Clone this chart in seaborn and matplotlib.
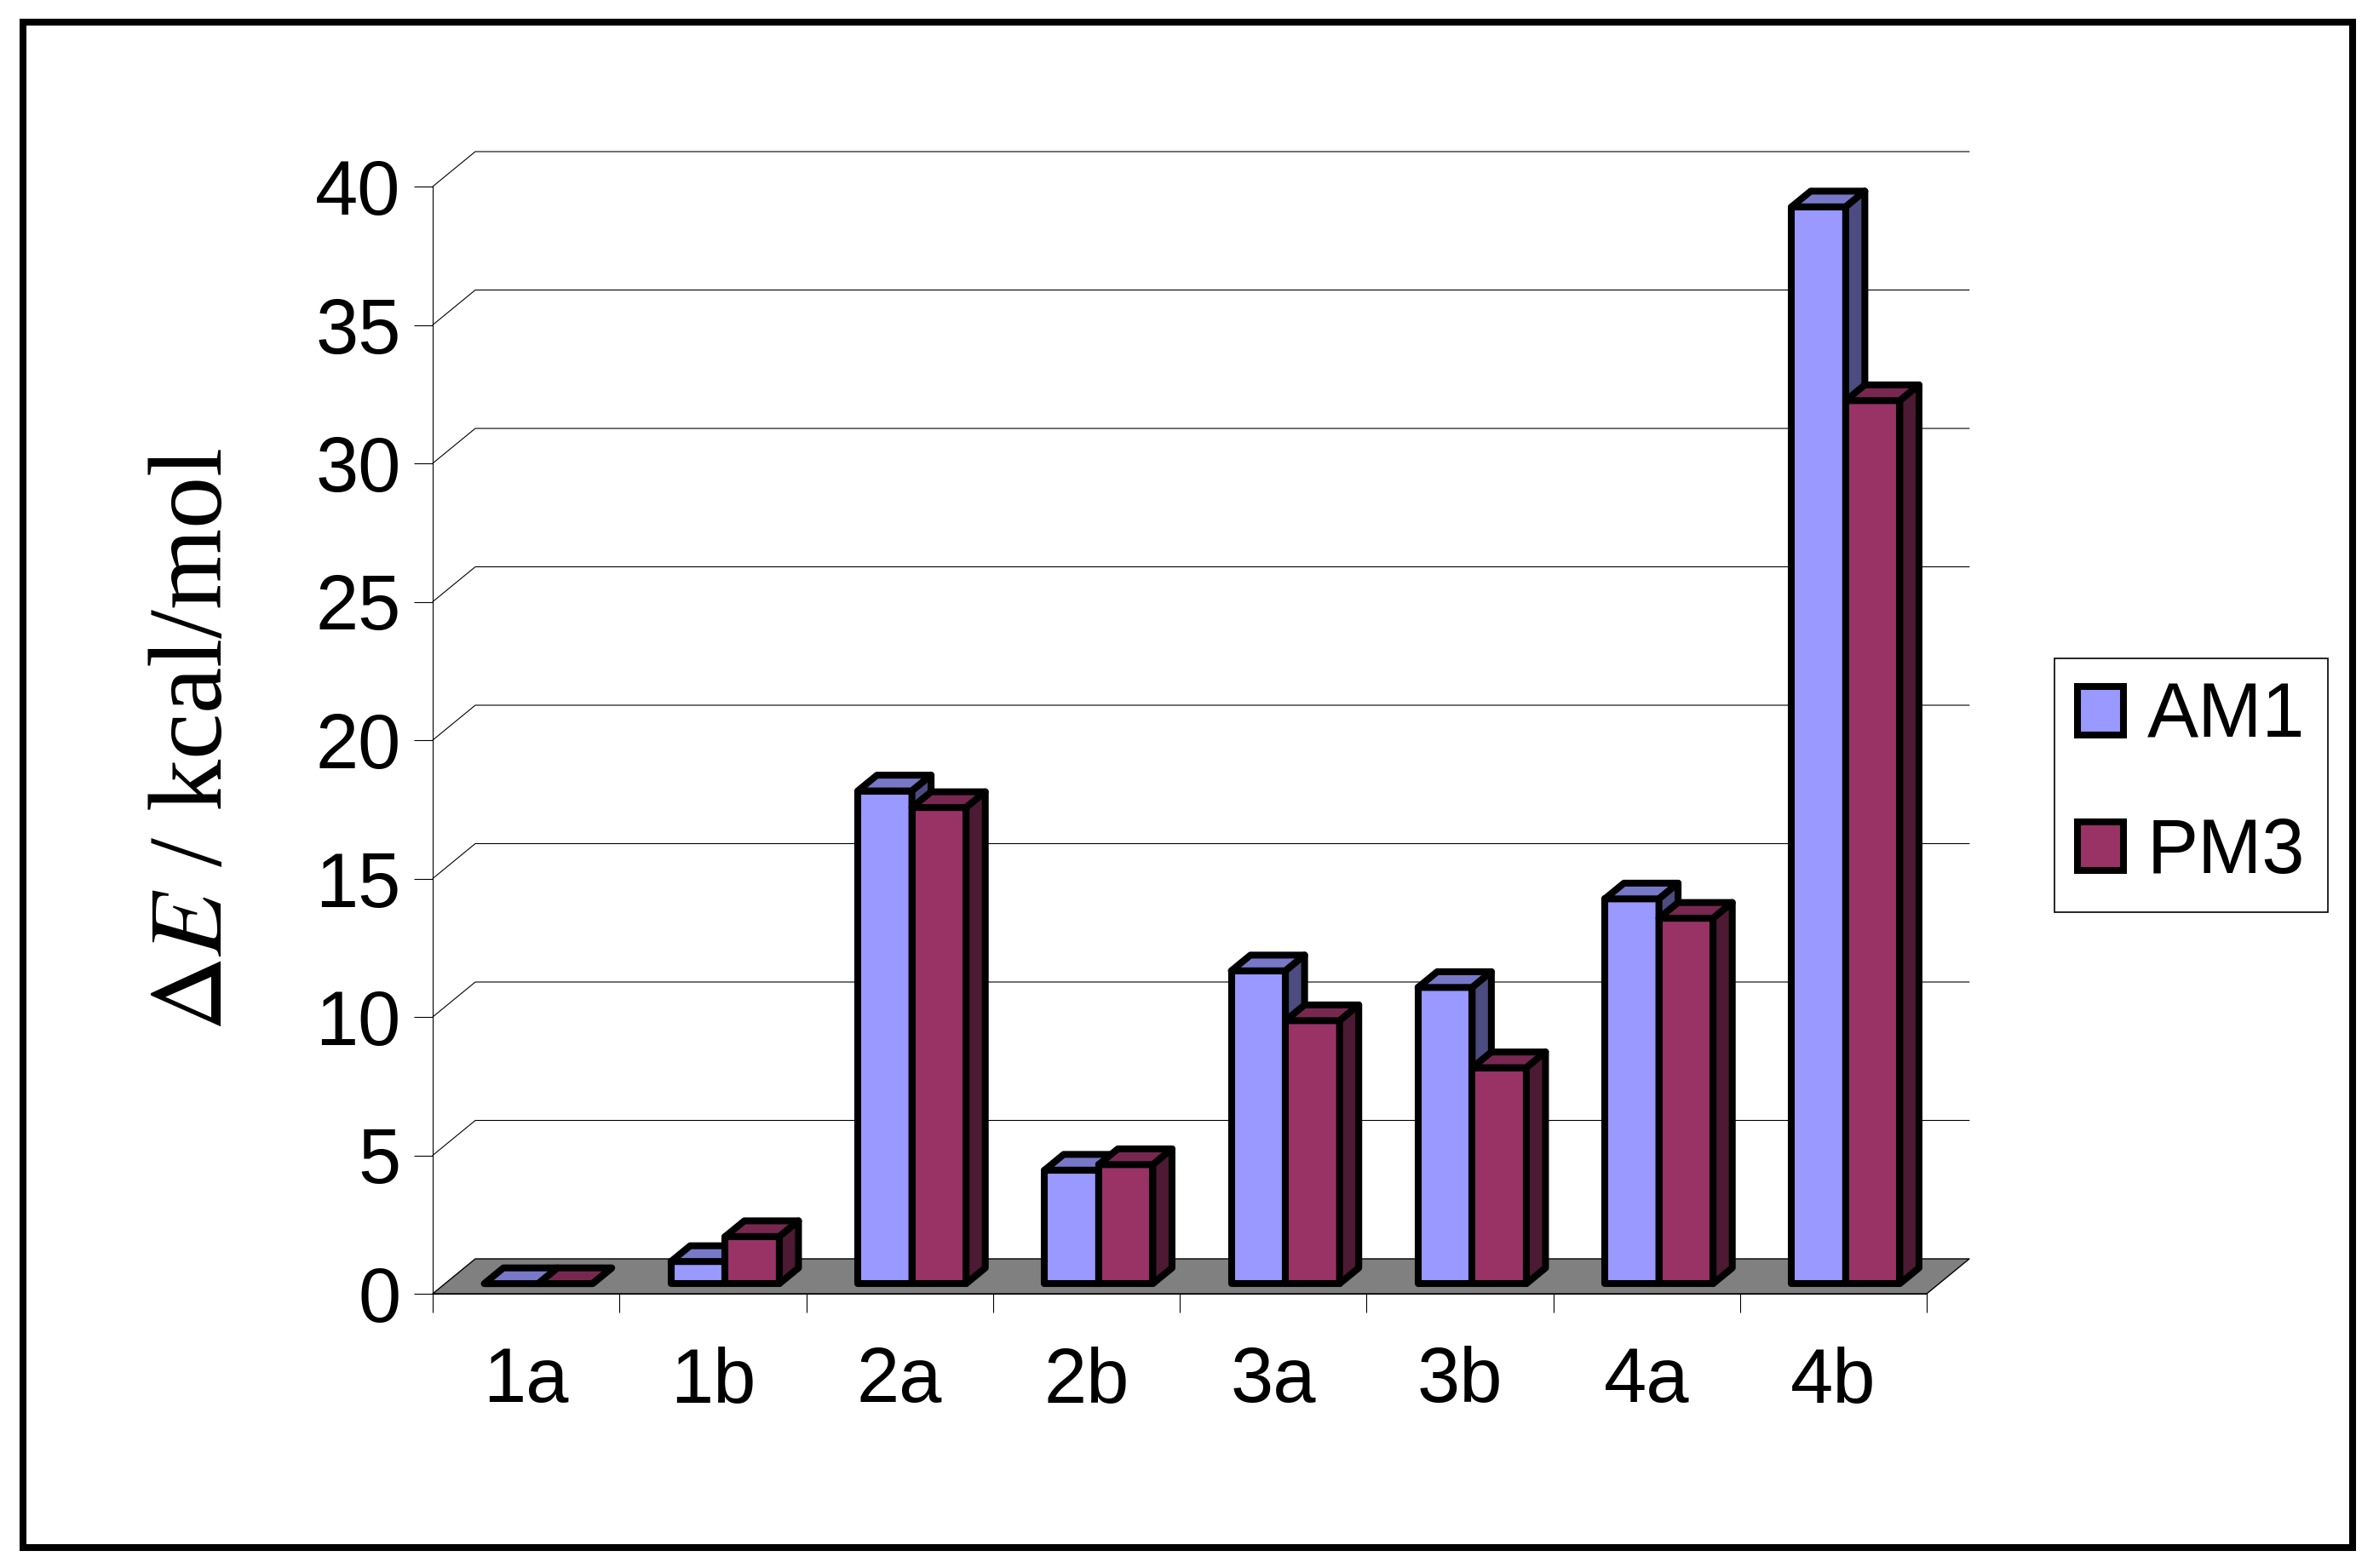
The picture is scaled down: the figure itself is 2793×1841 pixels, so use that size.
import numpy as np
import pandas as pd
import matplotlib
matplotlib.use("Agg")
import matplotlib.pyplot as plt
import seaborn as sns
from matplotlib.patches import Polygon, Patch, Rectangle
from matplotlib.lines import Line2D
from matplotlib.transforms import Affine2D, IdentityTransform

# ---------------- data ----------------
categories = ["1a", "1b", "2a", "2b", "3a", "3b", "4a", "4b"]
am1_values = [0.0, 0.8, 17.8, 4.1, 11.3, 10.7, 13.9, 38.9]
pm3_values = [0.0, 1.7, 17.2, 4.3, 9.5, 7.8, 13.2, 31.9]
series_names = ["AM1", "PM3"]
y_ticks = [0, 5, 10, 15, 20, 25, 30, 35, 40]

front_colors = {"AM1": "#9999FF", "PM3": "#993366"}
top_colors = {"AM1": "#7878C8", "PM3": "#782850"}
side_colors = {"AM1": "#4C4C80", "PM3": "#4C1A33"}

df = pd.DataFrame({
    "cat": categories * 2,
    "method": ["AM1"] * len(categories) + ["PM3"] * len(categories),
    "value": am1_values + pm3_values,
})

# ---------------- figure ----------------
sns.set_theme(style="white")
plt.rcParams["font.family"] = ["Liberation Sans", "DejaVu Sans"]
plt.rcParams["mathtext.fontset"] = "stix"
plt.rcParams["text.color"] = "black"
plt.rcParams["xtick.color"] = "black"
plt.rcParams["ytick.color"] = "black"
plt.rcParams["axes.labelcolor"] = "black"

W, H = 2793, 1841
DPI = 100
fig = plt.figure(figsize=(W / DPI, H / DPI), dpi=DPI)
fig.patch.set_facecolor("white")

x_left, x_right = 508, 2262
y_zero, y_top = 1519, 219
ax = fig.add_axes([x_left / W, (H - y_zero) / H, (x_right - x_left) / W, (y_zero - y_top) / H])
ax.set_facecolor("none")

LW = 5.8
sns.barplot(data=df, x="cat", y="value", hue="method", order=categories,
            hue_order=series_names, palette=front_colors, width=0.58,
            edgecolor="black", linewidth=LW, saturation=1, legend=False, ax=ax)

ax.set_xlim(-0.5, len(categories) - 0.5)
ax.set_ylim(0, 40)
ax.set_autoscale_on(False)

# depth geometry (pixels, display coords)
DX, DY = 50.0, 41.0
F0 = 0.29      # front plane of bars
FB = 0.45      # depth of bars


def P(x, y, f):
    p = ax.transData.transform((x, y))
    return (p[0] + f * DX, p[1] + f * DY)


def add_poly(pts, fc, ec="black", lw=LW, z=1):
    poly = Polygon(pts, closed=True, facecolor=fc, edgecolor=ec, linewidth=lw,
                   transform=IdentityTransform(), clip_on=False, zorder=z,
                   joinstyle="round")
    ax.add_artist(poly)


# floor
xa, xb = -0.5, len(categories) - 0.5
add_poly([P(xa, 0, 0), P(xb, 0, 0), P(xb, 0, 1), P(xa, 0, 1)], "#808080", lw=1.0, z=0.5)

# back wall gridlines and left-wall slants
for v in y_ticks[1:]:
    pts = np.array([P(xa, v, 0), P(xa, v, 1), P(xb, v, 1)])
    ax.add_artist(Line2D(pts[:, 0], pts[:, 1], color="black", linewidth=0.8,
                         transform=IdentityTransform(), clip_on=False, zorder=0.6))

# 3D bars
n = len(categories)
for k, bar in enumerate(ax.patches[: 2 * n]):
    j = k // n                      # series index
    x0 = bar.get_x()
    w = bar.get_width()
    h = bar.get_height()
    i = int(round(x0 + w / 2 + (0.145 if j == 0 else -0.145)))
    name = series_names[j]
    base = 10 + i * 10 + j * 4
    bar.set_transform(ax.transData + Affine2D().translate(F0 * DX, F0 * DY))
    bar.set_clip_on(False)
    bar.set_zorder(base)
    bar.set_joinstyle("round")
    add_poly([P(x0, h, F0), P(x0 + w, h, F0), P(x0 + w, h, F0 + FB), P(x0, h, F0 + FB)],
             top_colors[name], z=base + 1)
    add_poly([P(x0 + w, 0, F0), P(x0 + w, h, F0), P(x0 + w, h, F0 + FB), P(x0 + w, 0, F0 + FB)],
             side_colors[name], z=base + 2)

# axes styling
for s in ["top", "right"]:
    ax.spines[s].set_visible(False)
for s in ["left", "bottom"]:
    ax.spines[s].set_color("black")
    ax.spines[s].set_linewidth(0.8)
    ax.spines[s].set_zorder(0.7)

ax.set_yticks(y_ticks)
ax.set_yticklabels([str(t) for t in y_ticks])
ax.tick_params(axis="y", direction="out", length=16, width=0.8, color="black",
               labelsize=65, pad=11, left=True, labelcolor="black")
ax.set_xticks(range(n))
ax.set_xticklabels(categories)
ax.set_xticks(np.arange(-0.5, n, 1.0), minor=True)
ax.tick_params(axis="x", which="major", length=0, labelsize=65, pad=44, labelcolor="black")
ax.tick_params(axis="x", which="minor", direction="out", length=16, width=0.8,
               color="black", bottom=True)
ax.set_xlabel("")
ax.set_ylabel("")
ax.grid(False)

# y label
fig.text(230 / W, 1 - 868 / H, r"$\Delta E$ / kcal/mol", rotation=90,
         fontsize=88, family=["Liberation Serif", "DejaVu Serif"],
         ha="center", va="center", color="black")

# legend
handles = [Patch(facecolor=front_colors[s], edgecolor="black", linewidth=LW,
                 joinstyle="round") for s in series_names]
leg = fig.legend(handles=handles, labels=series_names, loc="center left",
                 bbox_to_anchor=(2412 / W, 1 - 922 / H), fontsize=65,
                 frameon=True, fancybox=False, edgecolor="black", framealpha=1,
                 handlelength=0.6, handleheight=0.6, handletextpad=0.3,
                 borderpad=0.3, labelspacing=0.82, borderaxespad=0)
leg.get_frame().set_linewidth(1.2)
for t in leg.get_texts():
    t.set_color("black")

# outer frame
fig.add_artist(Rectangle((27 / W, (H - 1817) / H), (2762 - 27) / W, (1817 - 26) / H,
                         transform=fig.transFigure, fill=False, edgecolor="black",
                         linewidth=5.8))

fig.savefig("out.png", dpi=DPI)
